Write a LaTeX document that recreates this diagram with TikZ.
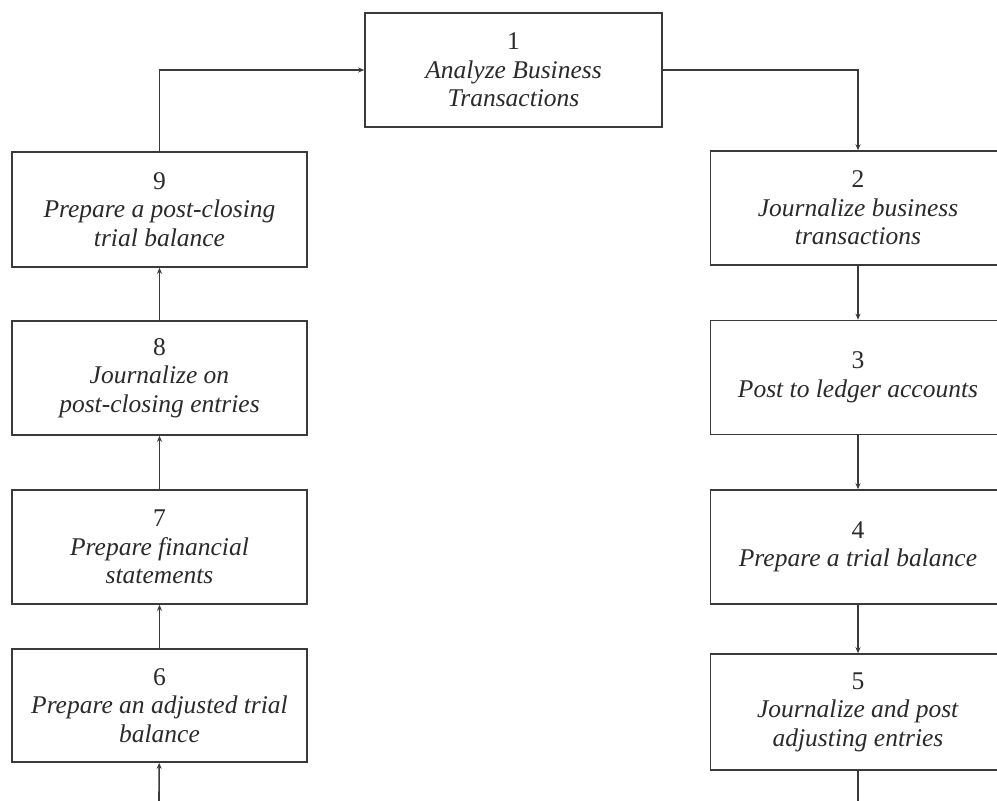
\documentclass[tikz,border=0pt]{standalone}
\usepackage{fontspec}
\setmainfont{Liberation Serif}
\usetikzlibrary{arrows.meta}
\definecolor{ln}{HTML}{3A3A3A}
\definecolor{tx}{HTML}{2A2A2A}
\tikzset{
  stepbox/.style={draw=ln, line width=1.6pt, rectangle, minimum width=295pt, minimum height=114pt,
    inner sep=0pt, align=center, text=tx, font=\fontsize{25.5}{28.5}\selectfont},
  conn/.style={draw=ln, line width=1.6pt, -{Stealth[length=6pt,width=5pt]}},
  plain/.style={draw=ln, line width=1.6pt}
}
\begin{document}
\begin{tikzpicture}[x=1pt,y=1pt]
\useasboundingbox (0,0) rectangle (997,-801);
\fill[white] (0,0) rectangle (997,-801);
\begin{scope}
\clip (0,0) rectangle (997,-801);
\node[stepbox, minimum width=297pt] (n1) at (513.5,-70) {1\\\textit{Analyze Business}\\\textit{Transactions}};
\node[stepbox] (n2) at (858,-208) {2\\\textit{Journalize business}\\\textit{transactions}};
\node[stepbox] (n3) at (858,-377.5) {3\\\textit{Post to ledger accounts}};
\node[stepbox] (n4) at (858,-547) {4\\\textit{Prepare a trial balance}};
\node[stepbox, minimum height=116pt] (n5) at (858,-712) {5\\\textit{Journalize and post}\\\textit{adjusting entries}};
\node[stepbox, minimum height=113pt] (n6) at (159.5,-705.5) {6\\\textit{Prepare an adjusted trial}\\\textit{balance}};
\node[stepbox] (n7) at (159.5,-547) {7\\\textit{Prepare financial}\\\textit{statements}};
\node[stepbox] (n8) at (159.5,-378) {8\\\textit{Journalize on}\\\textit{post-closing entries}};
\node[stepbox, minimum height=115pt] (n9) at (159.5,-209.5) {9\\\textit{Prepare a post-closing}\\\textit{trial balance}};
\coordinate (b5) at (858,-801);
\coordinate (b6) at (159,-801);
\draw[conn] (n1.east) -| (n2.north);
\draw[conn] (n2) -- (n3);
\draw[conn] (n3) -- (n4);
\draw[conn] (n4) -- (n5);
\draw[plain] (n5) -- (b5);
\draw[conn] (b6) -- (n6);
\draw[conn] (n6) -- (n7);
\draw[conn] (n7) -- (n8);
\draw[conn] (n8) -- (n9);
\draw[conn] (n9.north) |- (n1.west);
\end{scope}
\end{tikzpicture}
\end{document}
